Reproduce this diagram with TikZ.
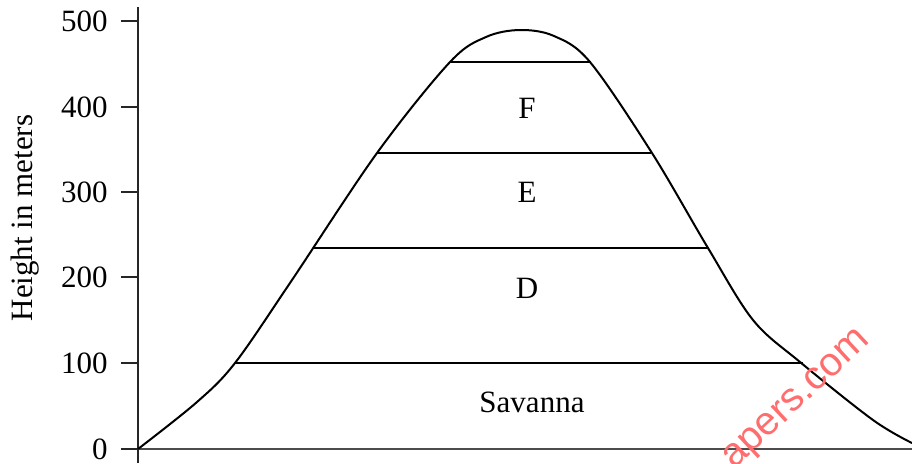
\documentclass[tikz,border=0pt]{standalone}
\usepackage{fontspec}
\setmainfont{Liberation Serif}
\newfontfamily\wmfont{Liberation Sans}
\definecolor{wmred}{RGB}{255,110,110}
\begin{document}
\begin{tikzpicture}[x=0.5pt,y=-0.5pt,
  lbl/.style={font=\fontsize{15.5}{18}\selectfont, inner sep=0pt},
  tick/.style={line width=1pt, black!85},
  band/.style={line width=1.2pt},
  hill/.style={line width=1pt, line join=round}]
\useasboundingbox (0,0) rectangle (912,463);
\begin{scope}
\clip (0,0) rectangle (912,463);
% axis
\coordinate (atop) at (138,7);
\coordinate (abot) at (138,463);
\draw[tick] (atop) -- (abot);
\coordinate (b0) at (121,449);
\coordinate (b1) at (912,449);
\draw[line width=1pt, black!70] (b0) -- (b1);
\foreach \v/\y in {500/21,400/107,300/192,200/277,100/363,0/449}{
  \coordinate (t\v) at (121,\y);
  \coordinate (u\v) at (138,\y);
  \draw[tick] (t\v) -- (u\v);
  \node[lbl, anchor=east] (n\v) at (108,\y) {\v};
}
\node[lbl, rotate=90] (ylab) at (25,218) {Height in meters};
% hill
\draw[hill] plot[smooth, tension=0.55] coordinates {
 (138,449) (197,402) (235,363) (290,283)
 (377,153) (450,62) (486,37) (520,30) (554,36) (590,62)
 (652,153) (708,248) (753,320) (800,362)
 (873,420) (912,443)};
% bands
\coordinate (l1) at (235,363); \coordinate (r1) at (803,363);
\coordinate (l2) at (313,248); \coordinate (r2) at (709,248);
\coordinate (l3) at (377,153); \coordinate (r3) at (651,153);
\coordinate (l4) at (450,62);  \coordinate (r4) at (591,62);
\draw[band] (l1) -- (r1);
\draw[band] (l2) -- (r2);
\draw[band] (l3) -- (r3);
\draw[band] (l4) -- (r4);
\node[lbl] (F) at (527,108) {F};
\node[lbl] (E) at (527,192) {E};
\node[lbl] (D) at (527,288) {D};
\node[lbl] (S) at (532,402) {Savanna};
% watermark
\node[font=\wmfont\fontsize{20}{24}\selectfont, text=wmred, rotate=43, inner sep=0pt] (wm) at (798,401) {apers.com};
\end{scope}
\end{tikzpicture}
\end{document}
